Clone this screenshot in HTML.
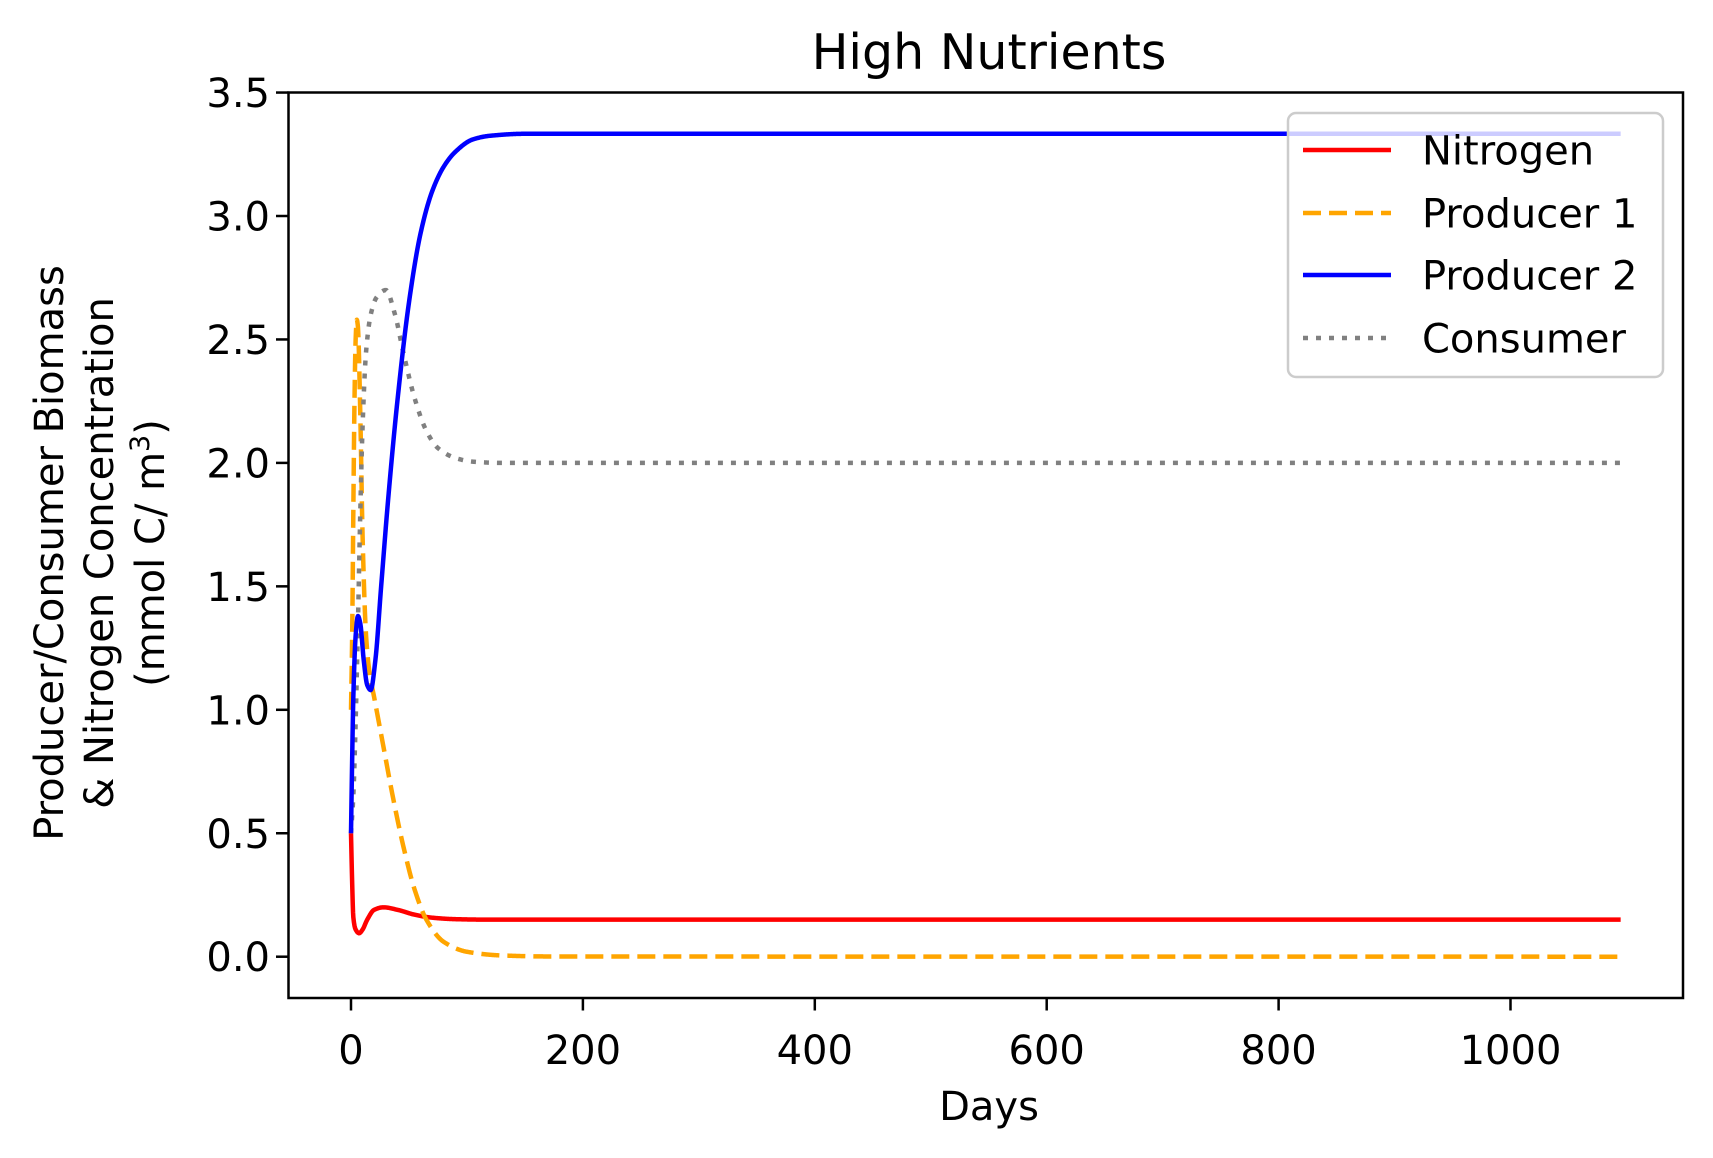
<!DOCTYPE html>
<html><head><meta charset="utf-8"><style>
html,body{margin:0;padding:0;background:#fff;}
svg{display:block;font-family:"DejaVu Sans","Liberation Sans",sans-serif;}
</style></head><body>
<svg id="chart" width="1713" height="1158" viewBox="0 0 1713 1158" xmlns="http://www.w3.org/2000/svg">
<text x="989" y="69" font-size="49" text-anchor="middle">High Nutrients</text>
<g id="yticks"></g><g id="xticks"></g>
<g id="lines"></g>
<rect x="288.5" y="92.5" width="1394.5" height="905.5" fill="none" stroke="#000" stroke-width="2.5"/>
<text x="989" y="1120" font-size="40" text-anchor="middle">Days</text>
<g transform="translate(0,553) rotate(-90)" font-size="40" text-anchor="middle">
<text x="0" y="63">Producer/Consumer Biomass</text>
<text x="0" y="113">&amp; Nitrogen Concentration</text>
<text x="0" y="164">(mmol C/ m<tspan font-size="27" dy="-15">3</tspan><tspan dy="15">)</tspan></text>
</g>
<g id="legend">
<rect x="1288" y="113" width="375" height="264" rx="8" fill="rgba(255,255,255,0.8)" stroke="#cccccc" stroke-width="2.5"/>
</g>
</svg>
<script>
const tNit=[0,1,2,4,7,10,14,20,28,40,55,70,90,120,200,1095];
const vNit=[0.5,0.3,0.16,0.11,0.095,0.11,0.15,0.19,0.2,0.19,0.17,0.158,0.152,0.15,0.15,0.15];
const tP1=[0,1,2,3,4,5,6,8,10,13,16,20,28,36,45,55,65,80,100,130,170,1095];
const vP1=[1.0,1.3,1.8,2.25,2.5,2.58,2.55,2.2,1.7,1.3,1.15,1.05,0.85,0.65,0.45,0.27,0.15,0.06,0.02,0.005,0.001,0.0];
const tP2=[0,1,2,4,6,8,11,14,17,21,26,32,40,50,60,70,80,90,105,120,150,200,1095];
const vP2=[0.5,0.8,1.05,1.3,1.38,1.35,1.2,1.1,1.08,1.2,1.5,1.85,2.25,2.65,2.93,3.1,3.2,3.26,3.31,3.325,3.333,3.333,3.333];
const tCon=[0,2,4,6,8,10,13,17,22,30,38,45,55,65,75,90,105,130,1095];
const vCon=[0.5,0.65,0.95,1.35,1.8,2.15,2.45,2.6,2.67,2.7,2.6,2.45,2.26,2.13,2.06,2.02,2.005,2.0,2.0];
const xTicks=[0,200,400,600,800,1000];
const yTicks=[0,0.5,1.0,1.5,2.0,2.5,3.0,3.5];
const yTickLabels=["0.0","0.5","1.0","1.5","2.0","2.5","3.0","3.5"];
const names=["Nitrogen","Producer 1","Producer 2","Consumer"];
const X=d=>351+d*1.1595, Y=v=>956.7-v*246.9;
const NS="http://www.w3.org/2000/svg";
function mk(tag,attrs,parent){const e=document.createElementNS(NS,tag);for(const k in attrs)e.setAttribute(k,attrs[k]);parent.appendChild(e);return e;}
const yg=document.getElementById('yticks'),xg=document.getElementById('xticks');
yTicks.forEach((v,i)=>{
 const l=mk('line',{x1:276,x2:288.5,y1:Y(v),y2:Y(v),stroke:'#000','stroke-width':2.5},yg);
 
 
 const t=mk('text',{x:270,y:Y(v)+14.5,'font-size':40,'text-anchor':'end'},yg);t.textContent=yTickLabels[i];
 
 
});
xTicks.forEach(v=>{
 const l=mk('line',{x1:X(v),x2:X(v),y1:998,y2:1010.5,stroke:'#000','stroke-width':2.5},xg);
 
 
 const t=mk('text',{x:X(v),y:1064,'font-size':40,'text-anchor':'middle'},xg);t.textContent=String(v);
 
 
});
function path(ts,vs){
 const n=ts.length,h=[],s=[];
 for(let i=0;i<n-1;i++){h.push(ts[i+1]-ts[i]);s.push((vs[i+1]-vs[i])/h[i]);}
 const m=new Array(n);m[0]=s[0];m[n-1]=s[n-2];
 for(let i=1;i<n-1;i++){if(s[i-1]*s[i]<=0)m[i]=0;else{const w1=2*h[i]+h[i-1],w2=h[i]+2*h[i-1];m[i]=(w1+w2)/(w1/s[i-1]+w2/s[i]);}}
 let d='M'+X(ts[0]).toFixed(2)+','+Y(vs[0]).toFixed(2);
 for(let i=0;i<n-1;i++){
  const steps=Math.max(4,Math.min(60,Math.ceil(h[i]*2)));
  for(let k=1;k<=steps;k++){const u=k/steps,hh=h[i];
   const h00=2*u*u*u-3*u*u+1,h10=u*u*u-2*u*u+u,h01=-2*u*u*u+3*u*u,h11=u*u*u-u*u;
   const v=h00*vs[i]+h10*hh*m[i]+h01*vs[i+1]+h11*hh*m[i+1];
   d+=' L'+X(ts[i]+u*hh).toFixed(2)+','+Y(v).toFixed(2);}
 }
 return d;}
const styles=[{c:'#ff0000',da:''},{c:'#ffa500',da:'18 8'},{c:'#0000ff',da:''},{c:'#808080',da:'5 8'}];
const series=[[tNit,vNit],[tP1,vP1],[tP2,vP2],[tCon,vCon]];
const order=[0,1,3,2];
const lg=document.getElementById('lines');
order.forEach(i=>{
 const a={d:path(series[i][0],series[i][1]),fill:'none',stroke:styles[i].c,'stroke-width':4.5,'stroke-linejoin':'round'};
 if(styles[i].da)a['stroke-dasharray']=styles[i].da;
 const e=mk('path',a,lg);
 
 
});
const leg=document.getElementById('legend');
const ly=[150,213,275,338];
names.forEach((n,i)=>{
 const a={x1:1303,x2:1391,y1:ly[i],y2:ly[i],stroke:styles[i].c,'stroke-width':4.5};
 if(styles[i].da)a['stroke-dasharray']=styles[i].da;
 const l=mk('line',a,leg);
 
 
 const t=mk('text',{x:1422,y:ly[i]+14.5,'font-size':40},leg);t.textContent=n;
 
 
});
</script>
</body></html>
